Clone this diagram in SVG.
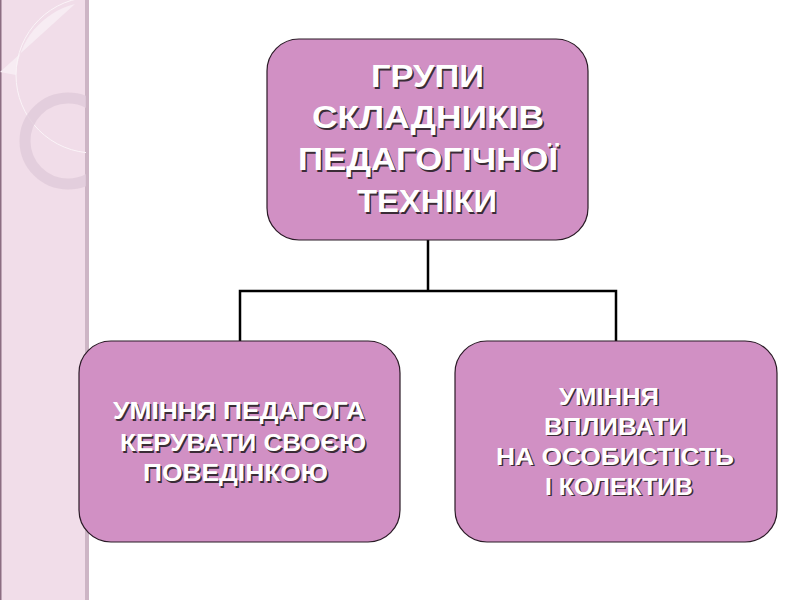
<svg xmlns="http://www.w3.org/2000/svg" width="800" height="600" viewBox="0 0 800 600">
<defs>
<style>
.box{fill:#d190c4;stroke:#2a1a26;stroke-width:1.2}
.conn{fill:none;stroke:#000;stroke-width:2.5}
.t{font-family:"Liberation Sans",Arial,sans-serif;font-weight:bold;fill:#fff}
.s{font-family:"Liberation Sans",Arial,sans-serif;font-weight:bold;fill:#3a2c36}
.big{font-size:31px}
.small{font-size:24.5px}
</style>
<clipPath id="strip"><rect x="0" y="0" width="86" height="600"/></clipPath>
</defs>
<rect width="800" height="600" fill="#fff"/>
<g id="decor">
<rect x="0" y="0" width="86" height="600" fill="#f1dde9"/>
<rect x="85" y="0" width="4" height="600" fill="#cdb5c5"/>
<rect x="0" y="0" width="1.5" height="600" fill="#8c6d82"/>
<g clip-path="url(#strip)">
<path d="M0,72 L75,4 A78,78 0 0 0 16,75 Z" fill="#f7ecf3"/>
<circle cx="94" cy="75" r="78" fill="none" stroke="#fbf4f8" stroke-width="1"/>
<circle cx="68" cy="141" r="43" fill="none" stroke="#e0cbd9" stroke-width="11" opacity="0.8"/>
</g>
</g>
<g id="connectors">
<path class="conn" d="M428,240 V291 M240,341 V291 H616 V341"/>
</g>
<g id="top">
<rect class="box" x="267" y="39" width="321" height="201" rx="32"/>
<text class="s big" x="372.5" y="88.5" textLength="113" lengthAdjust="spacingAndGlyphs">ГРУПИ</text>
<text class="t big" x="371" y="87" textLength="113" lengthAdjust="spacingAndGlyphs">ГРУПИ</text>
<text class="s big" x="313.5" y="129.5" textLength="232" lengthAdjust="spacingAndGlyphs">СКЛАДНИКІВ</text>
<text class="t big" x="312" y="128" textLength="232" lengthAdjust="spacingAndGlyphs">СКЛАДНИКІВ</text>
<text class="s big" x="299.5" y="171.5" textLength="260" lengthAdjust="spacingAndGlyphs">ПЕДАГОГІЧНОЇ</text>
<text class="t big" x="298" y="170" textLength="260" lengthAdjust="spacingAndGlyphs">ПЕДАГОГІЧНОЇ</text>
<text class="s big" x="358.5" y="213.5" textLength="140" lengthAdjust="spacingAndGlyphs">ТЕХНІКИ</text>
<text class="t big" x="357" y="212" textLength="140" lengthAdjust="spacingAndGlyphs">ТЕХНІКИ</text>
</g>
<g id="left">
<rect class="box" x="79" y="341" width="321" height="201" rx="32"/>
<text class="s small" x="114.5" y="420.5" textLength="252" lengthAdjust="spacingAndGlyphs">УМІННЯ ПЕДАГОГА</text>
<text class="t small" x="113" y="419" textLength="252" lengthAdjust="spacingAndGlyphs">УМІННЯ ПЕДАГОГА</text>
<text class="s small" x="121.5" y="452.5" textLength="246" lengthAdjust="spacingAndGlyphs">КЕРУВАТИ СВОЄЮ</text>
<text class="t small" x="120" y="451" textLength="246" lengthAdjust="spacingAndGlyphs">КЕРУВАТИ СВОЄЮ</text>
<text class="s small" x="144.5" y="482.5" textLength="185" lengthAdjust="spacingAndGlyphs">ПОВЕДІНКОЮ</text>
<text class="t small" x="143" y="481" textLength="185" lengthAdjust="spacingAndGlyphs">ПОВЕДІНКОЮ</text>
</g>
<g id="right">
<rect class="box" x="455" y="341" width="322" height="201" rx="32"/>
<text class="s small" x="560.5" y="406" textLength="100" lengthAdjust="spacingAndGlyphs">УМІННЯ</text>
<text class="t small" x="559" y="404.5" textLength="100" lengthAdjust="spacingAndGlyphs">УМІННЯ</text>
<text class="s small" x="545.5" y="436" textLength="143" lengthAdjust="spacingAndGlyphs">ВПЛИВАТИ</text>
<text class="t small" x="544" y="434.5" textLength="143" lengthAdjust="spacingAndGlyphs">ВПЛИВАТИ</text>
<text class="s small" x="497.5" y="466" textLength="238" lengthAdjust="spacingAndGlyphs">НА ОСОБИСТІСТЬ</text>
<text class="t small" x="496" y="464.5" textLength="238" lengthAdjust="spacingAndGlyphs">НА ОСОБИСТІСТЬ</text>
<text class="s small" x="546.5" y="496" textLength="148" lengthAdjust="spacingAndGlyphs">І КОЛЕКТИВ</text>
<text class="t small" x="545" y="494.5" textLength="148" lengthAdjust="spacingAndGlyphs">І КОЛЕКТИВ</text>
</g>
</svg>
